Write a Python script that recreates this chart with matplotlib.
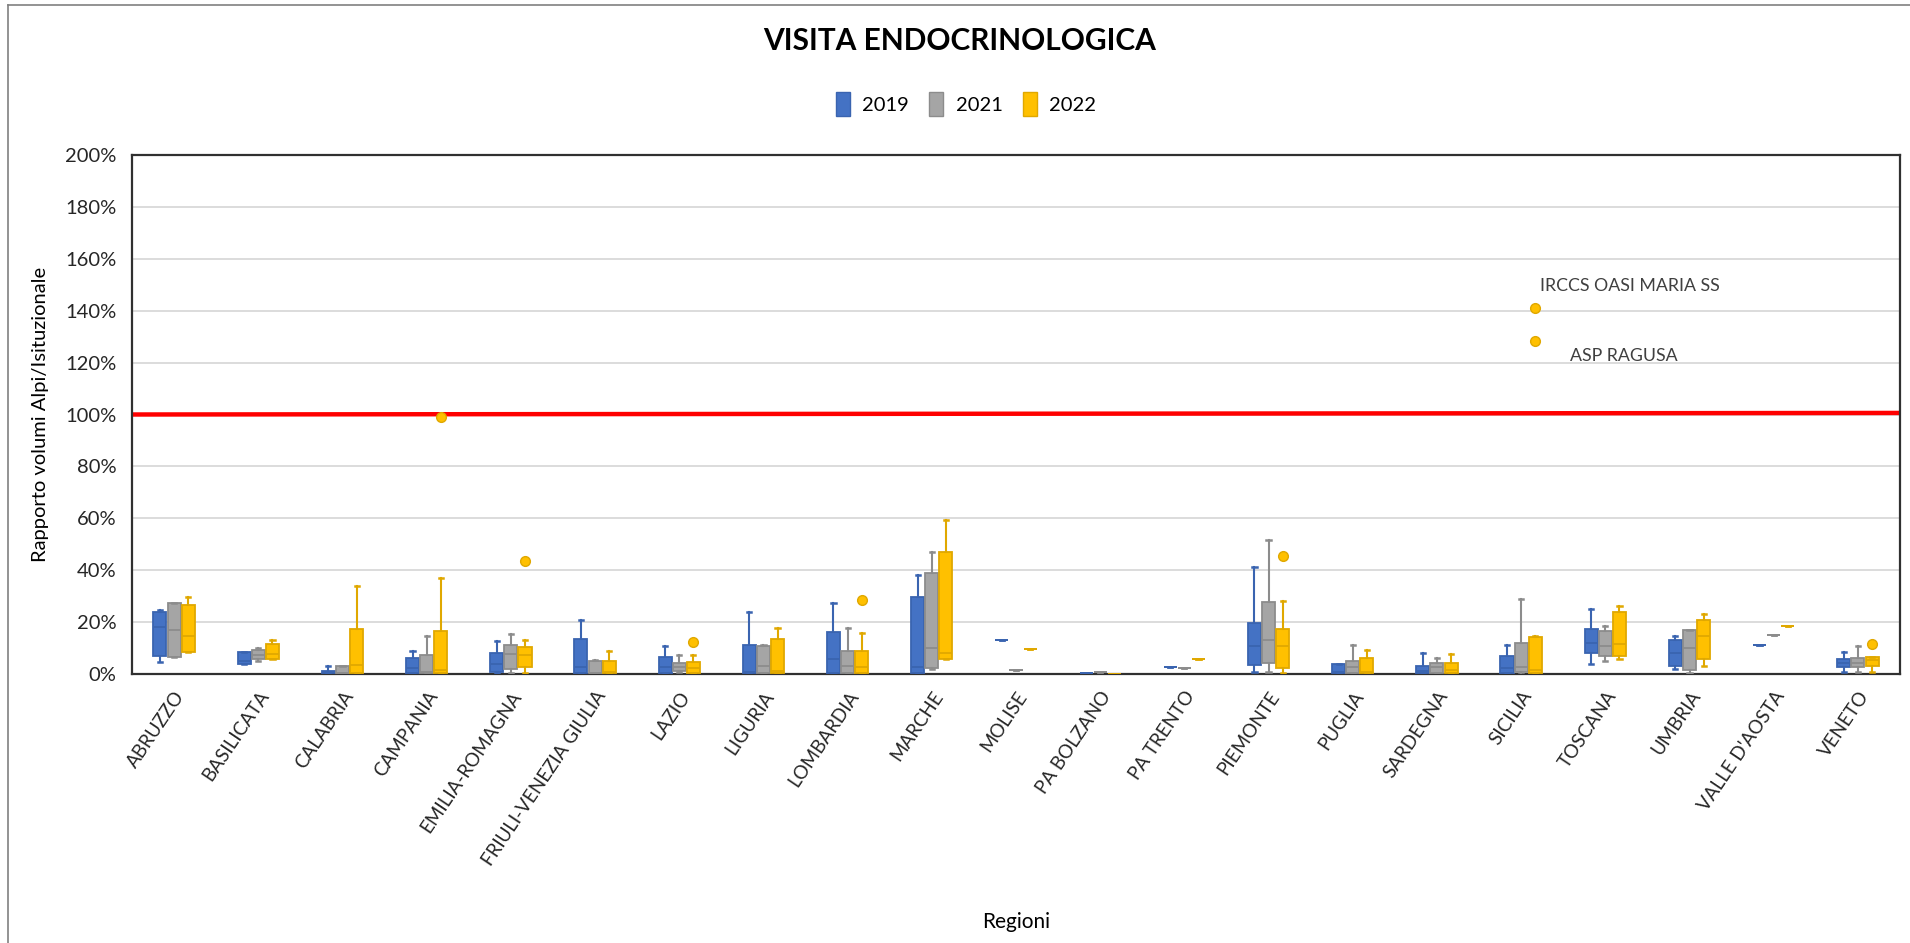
import matplotlib
matplotlib.use("Agg")
import matplotlib.pyplot as plt
from matplotlib.patches import Patch
from matplotlib.lines import Line2D

plt.rcParams['font.family'] = ['Lato', 'DejaVu Sans']

regions = ["ABRUZZO", "BASILICATA", "CALABRIA", "CAMPANIA", "EMILIA-ROMAGNA",
           "FRIULI-VENEZIA GIULIA", "LAZIO", "LIGURIA", "LOMBARDIA", "MARCHE",
           "MOLISE", "PA BOLZANO", "PA TRENTO", "PIEMONTE", "PUGLIA", "SARDEGNA",
           "SICILIA", "TOSCANA", "UMBRIA", "VALLE D'AOSTA", "VENETO"]
years = ["2019", "2021", "2022"]

# values in percent: whisker low, Q1, median, Q3, whisker high
wlo_2019 = [4.8, 3.9, 0.3, 0.3, 0.3, 0.3, 0.3, 0.4, 0.3, 0.3, 13.0, 0.4, 2.6, 0.6, 0.3, 0.3, 0.3, 3.9, 2.0, 11.0, 0.6]
q1_2019  = [7.1, 3.9, 0.3, 0.3, 0.9, 0.3, 0.3, 0.5, 0.3, 0.3, 13.0, 0.4, 2.6, 3.5, 0.3, 0.3, 0.3, 8.0, 3.2, 11.0, 2.6]
med_2019 = [18.2, 5.2, 0.6, 2.2, 4.0, 2.8, 2.6, 0.9, 5.8, 2.8, 13.0, 0.4, 2.6, 10.8, 0.8, 1.1, 2.2, 11.9, 8.2, 11.0, 4.4]
q3_2019  = [24.0, 8.4, 1.3, 6.1, 8.0, 13.6, 6.5, 11.3, 16.0, 29.6, 13.0, 0.4, 2.6, 19.7, 3.9, 3.2, 7.0, 17.4, 13.0, 11.0, 5.7]
whi_2019 = [24.5, 8.6, 3.2, 8.8, 12.6, 21.0, 10.8, 23.8, 27.3, 38.3, 13.0, 0.4, 2.6, 41.3, 4.0, 8.0, 11.3, 25.0, 14.7, 11.0, 8.4]

wlo_2021 = [6.5, 5.1, 0.3, 0.3, 0.3, 0.3, 0.8, 0.3, 0.3, 1.8, 1.7, 0.6, 2.2, 0.6, 0.3, 0.3, 0.0, 4.9, 0.5, 15.0, 0.6]
q1_2021  = [6.7, 5.6, 0.3, 0.3, 1.8, 0.3, 1.1, 0.3, 0.3, 2.3, 1.7, 0.6, 2.2, 4.4, 0.3, 0.3, 0.8, 6.9, 1.5, 15.0, 2.6]
med_2021 = [17.1, 7.5, 0.5, 0.9, 7.8, 0.5, 2.6, 3.2, 3.2, 10.1, 1.7, 0.6, 2.2, 13.0, 2.6, 2.6, 2.8, 10.6, 10.1, 15.0, 4.4]
q3_2021  = [27.2, 9.3, 3.2, 7.5, 11.2, 5.2, 4.1, 10.9, 8.8, 39.0, 1.7, 0.6, 2.2, 27.7, 5.2, 4.1, 12.1, 16.5, 16.8, 15.0, 6.2]
whi_2021 = [27.5, 10.1, 3.2, 14.7, 15.3, 5.4, 7.5, 11.0, 17.8, 47.0, 1.7, 0.6, 2.2, 51.6, 11.3, 6.1, 28.8, 18.4, 16.9, 15.0, 10.6]

wlo_2022 = [8.3, 5.6, 0.2, 0.3, 0.3, 0.3, 0.3, 0.5, 0.3, 5.6, 9.6, 0.1, 5.8, 0.3, 0.3, 0.3, 0.3, 5.9, 3.1, 18.6, 0.6]
q1_2022  = [8.3, 5.6, 0.2, 0.3, 2.6, 0.3, 0.5, 0.5, 0.3, 5.6, 9.6, 0.1, 5.8, 2.5, 0.3, 0.3, 0.3, 6.8, 5.6, 18.6, 3.1]
med_2022 = [14.5, 7.8, 3.6, 1.5, 7.5, 0.8, 2.2, 1.0, 2.6, 8.0, 9.6, 0.1, 5.8, 10.8, 0.8, 1.7, 1.7, 11.5, 14.8, 18.6, 5.5]
q3_2022  = [26.6, 11.7, 17.4, 16.5, 10.3, 5.2, 4.5, 13.5, 8.8, 47.0, 9.6, 0.1, 5.8, 17.3, 6.1, 4.1, 14.3, 23.9, 21.0, 18.6, 6.5]
whi_2022 = [29.6, 13.0, 33.8, 37.0, 13.0, 8.8, 7.5, 17.8, 15.8, 59.5, 9.6, 0.1, 5.8, 28.1, 9.4, 7.8, 14.5, 26.2, 23.0, 18.6, 6.5]

out_2022 = [[], [], [], [99.0], [43.5], [], [12.2], [], [28.6], [], [], [], [], [45.5],
            [], [], [141.0, 128.5], [], [], [], [11.7]]

threshold = [100.0, 100.6]
yticks = [0, 20, 40, 60, 80, 100, 120, 140, 160, 180, 200]

annot_labels = ["IRCCS OASI MARIA SS", "ASP RAGUSA"]

series = [
    (wlo_2019, q1_2019, med_2019, q3_2019, whi_2019, [[] for _ in regions]),
    (wlo_2021, q1_2021, med_2021, q3_2021, whi_2021, [[] for _ in regions]),
    (wlo_2022, q1_2022, med_2022, q3_2022, whi_2022, out_2022),
]
fills = ["#4472C4", "#A5A5A5", "#FFC000"]
edges = ["#3A64B0", "#8C8C8C", "#E0A800"]
offsets = [-0.168, 0.0, 0.168]

W, H = 1910, 943
fig = plt.figure(figsize=(W / 100, H / 100), dpi=100)
ax = fig.add_axes([132 / W, 1 - 674 / H, (1900 - 132) / W, (674 - 155) / H])

for s, (lo, q1, md, q3, hi, fl) in enumerate(series):
    stats = []
    for i in range(len(regions)):
        stats.append(dict(whislo=lo[i], q1=q1[i], med=md[i], q3=q3[i], whishi=hi[i], fliers=fl[i]))
    pos = [i + offsets[s] for i in range(len(regions))]
    ax.bxp(stats, positions=pos, widths=0.155, patch_artist=True, manage_ticks=False,
           capwidths=0.05,
           boxprops=dict(facecolor=fills[s], edgecolor=edges[s], linewidth=1.3),
           medianprops=dict(color=edges[s], linewidth=1.3),
           whiskerprops=dict(color=edges[s], linewidth=1.5),
           capprops=dict(color=edges[s], linewidth=1.8),
           flierprops=dict(marker='o', markerfacecolor=fills[s], markeredgecolor=edges[s],
                           markersize=7, linestyle='none'),
           zorder=3)

n = len(regions)
ax.plot([-0.5, n - 0.5], threshold, color="#FF0000", linewidth=3.2, zorder=2)

# annotations for Sicilia outliers
sic = regions.index("SICILIA")
ax.annotate(annot_labels[0], xy=(sic + offsets[2], out_2022[sic][0]), xytext=(5, 22),
            textcoords='offset pixels', fontsize=12.8, color="#404040", ha='left', va='center')
ax.annotate(annot_labels[1], xy=(sic + offsets[2], out_2022[sic][1]), xytext=(35, -15),
            textcoords='offset pixels', fontsize=12.8, color="#404040", ha='left', va='center')

ax.set_xlim(-0.5, n - 0.5)
ax.set_ylim(0, 200)
ax.set_yticks(yticks)
ax.set_yticklabels([f"{v}%" for v in yticks], fontsize=14.5, color="#262626")
ax.set_xticks(range(n))
ax.set_xticklabels(regions, rotation=56, ha='right', rotation_mode='anchor', fontsize=13.5,
                   color="#262626")
ax.tick_params(axis='both', length=0)
ax.tick_params(axis='x', pad=10)
ax.tick_params(axis='y', pad=11)
ax.grid(axis='y', color="#D9D9D9", linewidth=1.3, zorder=0)
ax.set_axisbelow(True)
for sp in ax.spines.values():
    sp.set_color("#303030")
    sp.set_linewidth(1.6)

ax.set_ylabel("Rapporto volumi Alpi/Isituzionale", fontsize=14.5, color="#000000", labelpad=12)
fig.text((132 + 1900) / 2 / W, 1 - 922 / H, "Regioni", ha='center', va='center', fontsize=15)

fig.text(960 / W, 1 - 41 / H, "VISITA ENDOCRINOLOGICA", ha='center', va='center',
         fontsize=21.5, fontweight='bold')

handles = [Patch(facecolor=fills[s], edgecolor=edges[s], label=years[s]) for s in range(3)]
fig.legend(handles=handles, loc='center', bbox_to_anchor=(966 / W, 1 - 104 / H), ncol=3,
           frameon=False, fontsize=14.5, handlelength=0.7, handleheight=1.4,
           columnspacing=1.0, handletextpad=0.6)

# outer chart-area border
fig.add_artist(Line2D([8 / W, 8 / W], [0, 1 - 5 / H], color="#808080", linewidth=1.2))
fig.add_artist(Line2D([8 / W, 1], [1 - 5 / H, 1 - 5 / H], color="#808080", linewidth=1.2))

fig.savefig("out.png", dpi=100)
